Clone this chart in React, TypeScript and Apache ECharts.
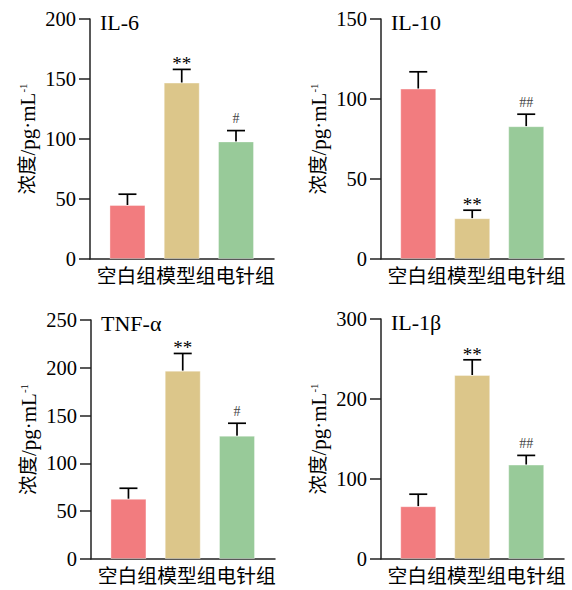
import React, { useEffect, useRef } from "react";
import * as echarts from "echarts";

const categories = ["空白组", "模型组", "电针组"];
const barColors = ["#F27C7F", "#DCC68A", "#98CA99"];

const panelTitles = ["IL-6", "IL-10", "TNF-α", "IL-1β"];
const yMaxes = [200, 150, 250, 300];
const yIntervals = [50, 50, 50, 100];

const il6Values = [45, 147, 98];
const il6Errors = [9, 11, 9];
const il6Sig = ["", "**", "#"];

const il10Values = [106.5, 25.5, 83];
const il10Errors = [10.5, 5, 7.5];
const il10Sig = ["", "**", "##"];

const tnfValues = [63, 197, 129];
const tnfErrors = [11, 18, 13];
const tnfSig = ["", "**", "#"];

const il1bValues = [66, 230, 118];
const il1bErrors = [15, 19, 11.5];
const il1bSig = ["", "**", "##"];

const allValues = [il6Values, il10Values, tnfValues, il1bValues];
const allErrors = [il6Errors, il10Errors, tnfErrors, il1bErrors];
const allSig = [il6Sig, il10Sig, tnfSig, il1bSig];

const gridPos = [
  { left: 90, top: 19, width: 184, height: 240 },
  { left: 381, top: 19, width: 183, height: 240 },
  { left: 91, top: 320, width: 184, height: 239 },
  { left: 381, top: 319, width: 183, height: 240 },
];

const SERIF = "'Liberation Serif', 'Times New Roman', 'Noto Sans CJK SC', serif";
const LABEL_FONT = 19.8;

export default function App() {
  const ref = useRef<HTMLDivElement>(null);
  useEffect(() => {
    if (!ref.current) return;
    const chart = echarts.init(ref.current, null, { renderer: "svg" });
    const grids: any[] = [];
    const xAxes: any[] = [];
    const yAxes: any[] = [];
    const series: any[] = [];
    const titles: any[] = [];
    for (let p = 0; p < 4; p++) {
      const g = gridPos[p];
      grids.push({ left: g.left, top: g.top, width: g.width, height: g.height, containLabel: false });
      xAxes.push({
        type: "value",
        gridIndex: p,
        min: -0.69,
        max: 2.7,
        splitLine: { show: false },
        axisTick: { show: false },
        axisLine: { show: true, onZero: false, lineStyle: { color: "#222", width: 1.5 } },
        axisLabel: { show: false },
      });
      yAxes.push({
        type: "value",
        gridIndex: p,
        min: 0,
        max: yMaxes[p],
        interval: yIntervals[p],
        splitLine: { show: false },
        axisLine: { show: true, onZero: false, lineStyle: { color: "#222", width: 1.5 } },
        axisTick: { show: true, length: 11, lineStyle: { color: "#222", width: 1.5 } },
        axisLabel: { color: "#000", fontSize: 20.5, fontFamily: SERIF, margin: 14 },
        name: "{c|浓度}{a|/pg·mL}{s|-1}",
        nameLocation: "middle",
        nameRotate: 90,
        nameGap: 52,
        nameTextStyle: {
          rich: {
            c: { fontSize: 19.5, fontFamily: SERIF, color: "#000" },
            a: { fontSize: 21, fontFamily: SERIF, color: "#000" },
            s: { fontSize: 11, fontFamily: SERIF, color: "#000", verticalAlign: "top", padding: [0, 0, 9, 0] },
          },
        },
      });
      titles.push({
        text: panelTitles[p],
        left: g.left + 10,
        top: g.top - 8,
        padding: 0,
        textStyle: { fontSize: 22, fontWeight: "normal", fontFamily: SERIF, color: "#000" },
      });
      const vals = allValues[p];
      const errs = allErrors[p];
      const sig = allSig[p];
      series.push({
        type: "bar",
        xAxisIndex: p,
        yAxisIndex: p,
        barWidth: 36,
        data: vals.map((v, i) => ({
          value: [i, v],
          itemStyle: { color: barColors[i], borderColor: "rgba(255,255,255,0.35)", borderWidth: 1 },
        })),
      });
      series.push({
        type: "custom",
        xAxisIndex: p,
        yAxisIndex: p,
        clip: false,
        data: vals.map((v, i) => [i, v, errs[i]]),
        renderItem: (params: any, api: any) => {
          const x = api.value(0);
          const y = api.value(1);
          const e = api.value(2);
          const pFirst = api.coord([0, 0]);
          const p0 = api.coord([x, y]);
          const p1 = api.coord([x, y + e]);
          const half = 9;
          const s = sig[params.dataIndex];
          const isStar = s.indexOf("*") >= 0;
          const lineStyle = { stroke: "#000", lineWidth: 1.7 };
          const groupW = LABEL_FONT * 3;
          return {
            type: "group",
            children: [
              { type: "line", shape: { x1: p0[0], y1: p0[1], x2: p1[0], y2: p1[1] }, style: lineStyle },
              { type: "line", shape: { x1: p1[0] - half, y1: p1[1], x2: p1[0] + half, y2: p1[1] }, style: lineStyle },
              {
                type: "text",
                x: p1[0],
                y: isStar ? p1[1] + 4 : p1[1] - 5,
                style: {
                  text: s,
                  fill: isStar ? "#000" : "#444",
                  fontSize: isStar ? 19 : 14,
                  fontFamily: SERIF,
                  align: "center",
                  verticalAlign: "bottom",
                },
              },
              {
                type: "text",
                x: pFirst[0] - groupW / 2 - 1 + params.dataIndex * groupW,
                y: pFirst[1] + 7,
                style: {
                  text: categories[params.dataIndex],
                  fill: "#000",
                  fontSize: LABEL_FONT,
                  fontFamily: SERIF,
                  align: "left",
                  verticalAlign: "top",
                },
              },
            ],
          };
        },
      });
    }
    chart.setOption({
      animation: false,
      backgroundColor: "#fff",
      title: titles,
      grid: grids,
      xAxis: xAxes,
      yAxis: yAxes,
      series,
    });
    return () => chart.dispose();
  }, []);
  return (
    <div
      ref={ref}
      style={{ position: "fixed", left: 0, top: 0, width: 572, height: 590 }}
    />
  );
}
